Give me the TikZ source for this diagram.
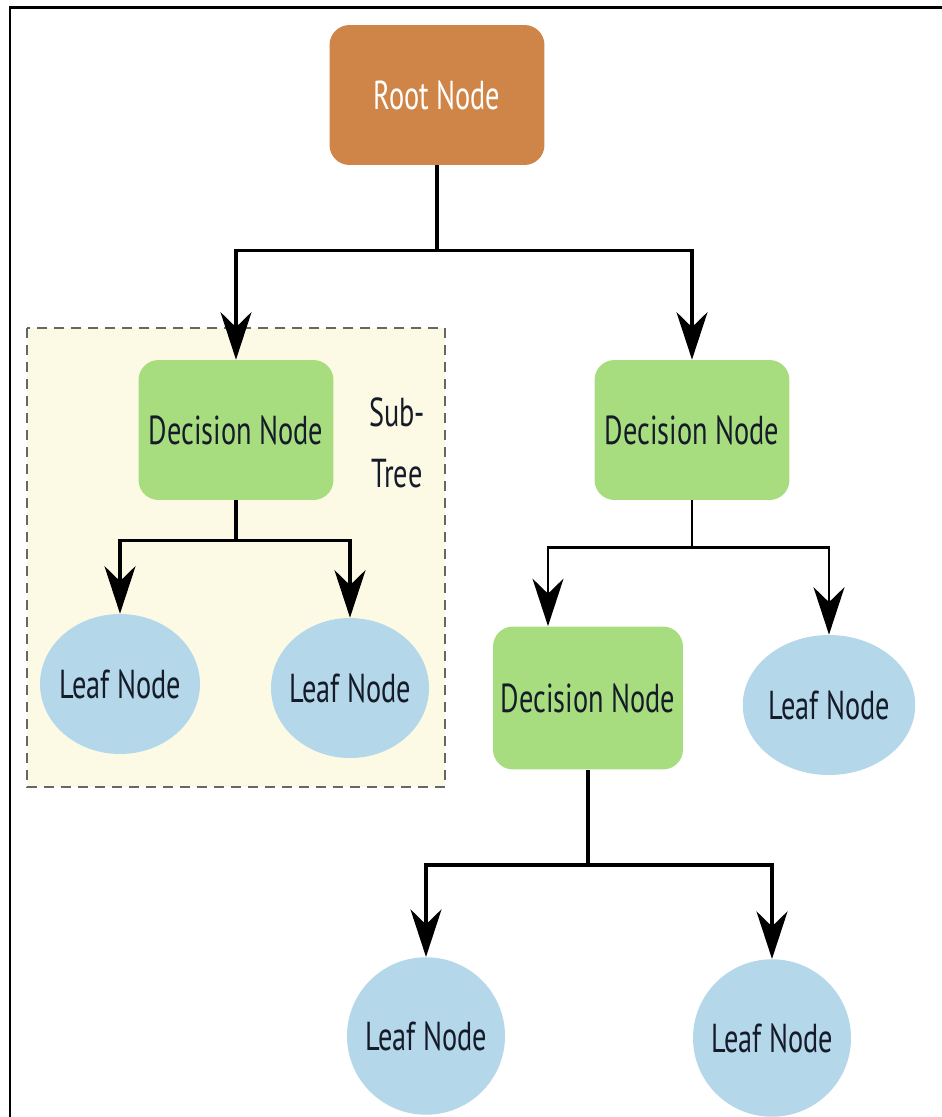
\documentclass[tikz,border=0pt]{standalone}
\usepackage{fontspec}
\usepackage{xcolor}
\usepackage{tikz}
\usetikzlibrary{shapes.geometric}
\usetikzlibrary{arrows.meta}

\newfontfamily\nodefont[FakeStretch=0.7]{PT Sans}
\definecolor{rootcol}{HTML}{CF8547}
\definecolor{deccol}{HTML}{A8DD7F}
\definecolor{leafcol}{HTML}{B4D7EA}
\definecolor{subcol}{HTML}{FCFAE4}
\definecolor{inkcol}{HTML}{151B28}

\begin{document}
\begin{tikzpicture}[
	x=0.02cm, y=-0.02cm,
	font=\nodefont\fontsize{23}{35}\selectfont
]
\tikzset{
    rootbox/.style = {rectangle, rounded corners=0.4cm, fill=rootcol, text=white, align=center, minimum width=4.3cm, minimum height=2.8cm},
    decbox/.style = {rectangle, rounded corners=0.4cm, fill=deccol, text=inkcol, align=center, minimum width=3.9cm, minimum height=2.8cm},
    leafnode/.style = {ellipse, fill=leafcol, text=inkcol, inner xsep=-0.1cm, inner ysep=0pt, minimum width=3.2cm, minimum height=2.8cm},
    arr/.style = {line width=2pt, -{Stealth[length=0.95cm,width=0.62cm,inset=0.3cm]}},
    thinarr/.style = {arr, line width=1.4pt}
}
\useasboundingbox (0,0) rectangle (942,1117);
% frame
\draw[line width=0.06cm] (10,1117) -- (10,7) -- (942,7);
% sub-tree box
\draw[fill=subcol, draw=black!60, line width=0.045cm, dash pattern=on 0.2cm off 0.14cm] (27,328) rectangle (445,787);
\node[text=inkcol, align=center] (subtree) at (397,443) {Sub-\\Tree};

\node[rootbox] (root) at (437,95) {Root Node};
\node[decbox] (dec1) at (236,430) {Decision Node};
\node[decbox] (dec2) at (692,430) {Decision Node};
\node[leafnode] (leaf1) at (120,684) {Leaf Node};
\node[leafnode, minimum width=3.15cm] (leaf2) at (350,688) {Leaf Node};
\node[decbox, minimum width=3.8cm, minimum height=2.86cm] (dec3) at (588,698) {Decision Node};
\node[leafnode, minimum width=3.45cm] (leaf3) at (829,705) {Leaf Node};
\node[leafnode, minimum width=3.0cm, minimum height=3.15cm] (leaf4) at (426,1036) {Leaf Node};
\node[leafnode, minimum width=3.1cm, minimum height=3.15cm] (leaf5) at (772,1038) {Leaf Node};

\draw[arr] (root.south) -- ++(0,85) -| (dec1.north);
\draw[arr] (root.south) -- ++(0,85) -| (dec2.north);
\draw[arr] (dec1.south) -- ++(0,40) -| (leaf1.north);
\draw[arr] (dec1.south) -- ++(0,40) -| (leaf2.north);
\draw[thinarr] (dec2.south) -- ++(0,47) -| ([xshift=-0.8cm]dec3.north);
\draw[thinarr] (dec2.south) -- ++(0,47) -| (leaf3.north);
\draw[arr] (dec3.south) -- ++(0,95) -| (leaf4.north);
\draw[arr] (dec3.south) -- ++(0,95) -| (leaf5.north);
\end{tikzpicture}
\end{document}
